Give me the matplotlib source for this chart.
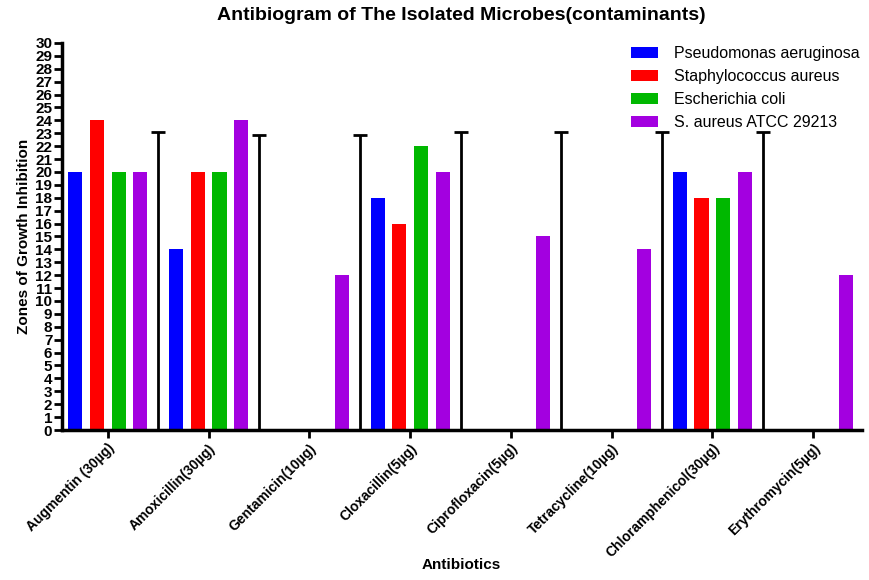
import matplotlib.pyplot as plt
import numpy as np

plt.rcParams['font.family'] = ['Liberation Sans', 'DejaVu Sans']

antibiotics = ['Augmentin (30µg)', 'Amoxicillin(30µg)', 'Gentamicin(10µg)', 'Cloxacillin(5µg)',
               'Ciprofloxacin(5µg)', 'Tetracycline(10µg)', 'Chloramphenicol(30µg)', 'Erythromycin(5µg)']
organisms = ['Pseudomonas aeruginosa', 'Staphylococcus aureus', 'Escherichia coli', 'S. aureus ATCC 29213']
pseudomonas = [20, 14, 0, 18, 0, 0, 20, 0]
staph = [24, 20, 0, 16, 0, 0, 18, 0]
ecoli = [20, 20, 0, 22, 0, 0, 18, 0]
atcc = [20, 24, 12, 20, 15, 14, 20, 12]
# black zero-height series with error bars (between groups)
control_err = [23.1, 22.9, 22.9, 23.1, 23.1, 23.1, 23.1]

colors = ['#0000ff', '#ff0000', '#00b800', '#a300e0']
series = [pseudomonas, staph, ecoli, atcc]

fig = plt.figure(figsize=(8.7, 5.8), dpi=100)
ax = fig.add_axes([0.0713, 0.2586, 0.9195, 0.6674])

x = np.arange(len(antibiotics))
pitch = 0.215
width = 0.14
for i, (vals, c, lab) in enumerate(zip(series, colors, organisms)):
    ax.bar(x + (i - 1.5) * pitch, vals, width, color=c, label=lab, zorder=2)

xc = x[:len(control_err)] + 0.5
ax.errorbar(xc, np.zeros(len(xc)), yerr=[np.zeros(len(xc)), control_err], fmt='none',
            ecolor='black', elinewidth=2, capsize=5, capthick=2, zorder=3)

ax.set_xlim(-0.455, 7.485)
ax.set_ylim(0, 30)
ax.set_yticks(range(0, 31))
ax.set_xticks(x)
ax.set_xticklabels(antibiotics, rotation=45, ha='right', rotation_mode='anchor',
                   fontsize=10, fontweight='bold')
for t in ax.get_yticklabels():
    t.set_fontweight('bold')
    t.set_fontsize(11)
ax.tick_params(axis='y', length=6, width=2, pad=1)
ax.tick_params(axis='x', length=6, width=2, pad=2)

for s in ['top', 'right']:
    ax.spines[s].set_visible(False)
for s in ['left', 'bottom']:
    ax.spines[s].set_linewidth(2.5)

ax.set_ylabel('Zones of Growth Inhibition', fontsize=11, fontweight='bold', labelpad=3)
fig.text(0.53, 1 - 565 / 580, 'Antibiotics', ha='center', va='center',
         fontsize=11, fontweight='bold')
fig.text(0.53, 1 - 15 / 580, 'Antibiogram of The Isolated Microbes(contaminants)',
         ha='center', va='center', fontsize=14, fontweight='bold')

fig.legend(*ax.get_legend_handles_labels(), loc='upper left',
           bbox_to_anchor=(628 / 870, 1 - 43 / 580), frameon=False, fontsize=11.5,
           handlelength=1.7, handleheight=0.6, labelspacing=0.5, handletextpad=1.0,
           borderaxespad=0, borderpad=0.2)

fig.savefig('out.png', dpi=100)
